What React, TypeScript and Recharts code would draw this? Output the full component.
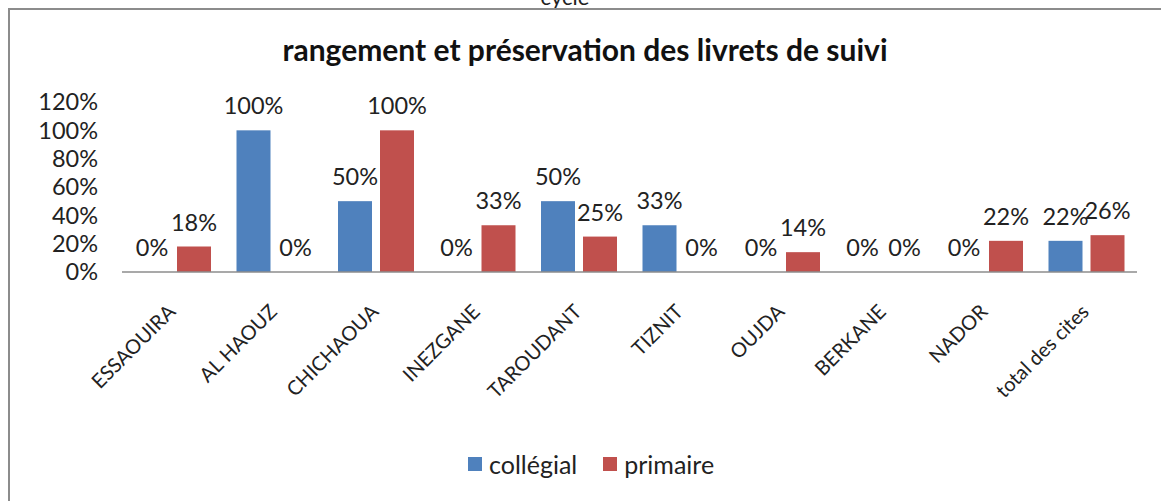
import { BarChart, Bar, XAxis, YAxis, LabelList } from 'recharts';

const categories = ['ESSAOUIRA', 'AL HAOUZ', 'CHICHAOUA', 'INEZGANE', 'TAROUDANT', 'TIZNIT', 'OUJDA', 'BERKANE', 'NADOR', 'total des cites'];
const collegial = [0, 100, 50, 0, 50, 33, 0, 0, 0, 22];
const primaire = [18, 0, 100, 33, 25, 0, 14, 0, 22, 26];
const yTicks = [0, 20, 40, 60, 80, 100, 120];

const BLUE = '#4F81BD';
const RED = '#C0504D';
const FONT = 'Lato, "Open Sans", sans-serif';

const data = categories.map((name, i) => ({ name, collegial: collegial[i], primaire: primaire[i] }));

const RotatedTick = ({ x, y, payload }: any) => {
  const tx = x + 4;
  const ty = y + 33;
  return (
    <text x={tx} y={ty} transform={`rotate(-45 ${tx} ${ty})`} textAnchor="end" fontSize={20} fontFamily={FONT} fill="#222">
      {payload.value}
    </text>
  );
};

// zero-height bars still need their "0%" label, so draw nothing for them but keep the label
const BarShape = ({ x, y, width, height, fill, value }: any) => {
  if (!value) return <g />;
  return <rect x={x} y={y} width={width} height={height} fill={fill} />;
};

const labelStyle = { fontSize: 23.5, fontFamily: FONT, fill: '#222' };

export default function App() {
  return (
    <div style={{ position: 'absolute', left: 0, top: 0, width: 1161, height: 501, overflow: 'hidden', background: '#fff', fontFamily: FONT }}>
      <div style={{ position: 'absolute', left: 0, width: 1130, top: -17, textAlign: 'center', fontSize: 22, color: '#222' }}>cycle</div>
      <div style={{ position: 'absolute', left: 8, top: 8, width: 1300, height: 700, borderTop: '2px solid #8c8c8c', borderLeft: '2px solid #8c8c8c' }} />
      <div style={{ position: 'absolute', left: 0, width: 1170, top: 31, textAlign: 'center', fontSize: 30, fontWeight: 700, color: '#111' }}>
        rangement et préservation des livrets de suivi
      </div>
      <div style={{ position: 'absolute', left: 0, top: 0 }}>
        <BarChart width={1161} height={501} data={data} margin={{ top: 102, right: 24, bottom: 0, left: 0 }} barSize={34} barGap={8}>
          <XAxis dataKey="name" height={229} tickLine={false} axisLine={{ stroke: '#8c8c8c', strokeWidth: 1.5 }} tick={<RotatedTick />} interval={0} />
          <YAxis width={122} domain={[0, 120]} ticks={yTicks} interval={0} tickFormatter={(v) => `${v}%`} axisLine={false} tickLine={false} tickSize={0} tickMargin={24} tick={labelStyle} />
          <Bar dataKey="collegial" fill={BLUE} minPointSize={0.01} shape={<BarShape />} isAnimationActive={false}>
            <LabelList dataKey="collegial" position="top" offset={16} formatter={(v: any) => `${v}%`} style={labelStyle} />
          </Bar>
          <Bar dataKey="primaire" fill={RED} minPointSize={0.01} shape={<BarShape />} isAnimationActive={false}>
            <LabelList dataKey="primaire" position="top" offset={16} formatter={(v: any) => `${v}%`} style={labelStyle} />
          </Bar>
        </BarChart>
      </div>
      <div style={{ position: 'absolute', top: 449, left: 468, display: 'flex', alignItems: 'center', fontSize: 25, color: '#222' }}>
        <span style={{ width: 14, height: 14, background: BLUE, display: 'inline-block', marginRight: 7 }} />
        <span style={{ marginRight: 26 }}>collégial</span>
        <span style={{ width: 14, height: 14, background: RED, display: 'inline-block', marginRight: 7 }} />
        <span>primaire</span>
      </div>
    </div>
  );
}
